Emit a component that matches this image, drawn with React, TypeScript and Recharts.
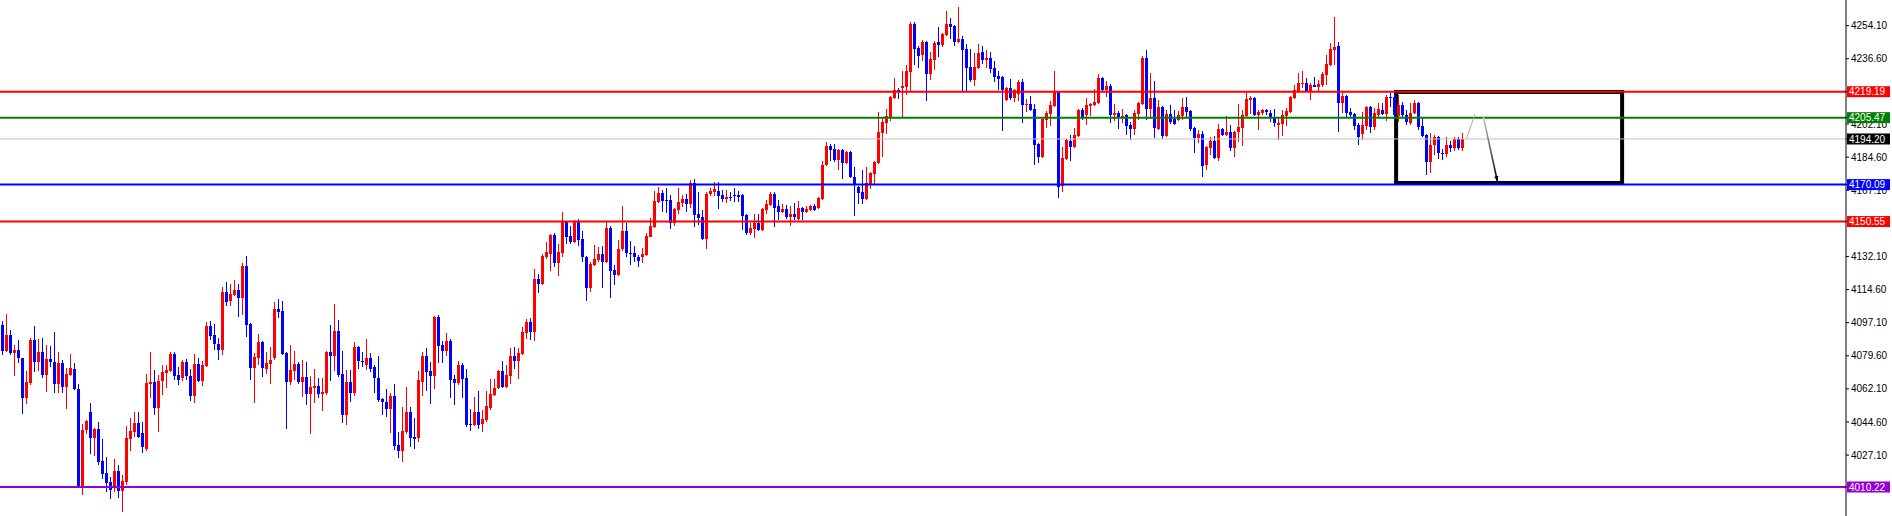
import { ComposedChart, Bar, XAxis, YAxis, ReferenceLine, ReferenceArea } from "recharts";

// candle values, one per bar, oldest first
const opens = [
  4095.9, 4082.3, 4090.6, 4081.2, 4082.6, 4078.2, 4057.4, 4065.4, 4087.9, 4076.3,
  4081.6, 4069.4, 4077.7, 4076.5, 4064.7, 4075.8, 4063.3, 4069.4, 4072.6, 4061.8,
  4010.2, 4040.4, 4049.9, 4036.3, 4040.9, 4024.0, 4017.6, 4012.9, 4010.2, 4018.7,
  4008.1, 4012.9, 4035.6, 4039.3, 4044.0, 4038.8, 4030.3, 4064.7, 4065.7, 4052.0,
  4066.3, 4070.5, 4071.5, 4080.5, 4069.4, 4067.8, 4076.3, 4068.9, 4058.3, 4075.2,
  4066.3, 4074.2, 4095.3, 4090.6, 4085.8, 4082.6, 4113.3, 4108.5, 4111.7, 4114.4,
  4110.1, 4127.0, 4096.4, 4073.1, 4078.4, 4086.9, 4072.6, 4075.2, 4078.4, 4104.3,
  4103.3, 4081.1, 4065.7, 4071.5, 4075.2, 4065.9, 4068.2, 4059.4, 4062.6, 4063.6,
  4059.4, 4059.9, 4081.6, 4079.5, 4092.7, 4069.9, 4048.3, 4065.7, 4059.9, 4084.2,
  4076.8, 4074.7, 4078.4, 4073.7, 4067.9, 4056.8, 4055.2, 4051.5, 4058.3, 4032.4,
  4029.5, 4039.3, 4049.9, 4036.7, 4036.1, 4065.7, 4079.5, 4071.5, 4068.9, 4100.1,
  4085.3, 4082.1, 4087.4, 4067.3, 4065.2, 4074.7, 4067.8, 4043.5, 4043.0, 4049.9,
  4043.5, 4045.6, 4052.0, 4058.9, 4062.6, 4071.5, 4063.1, 4068.9, 4079.5, 4076.8,
  4080.5, 4091.6, 4097.4, 4092.2, 4120.2, 4117.5, 4131.8, 4133.4, 4143.4, 4128.6,
  4133.9, 4150.3, 4142.9, 4139.8, 4150.8, 4141.3, 4131.8, 4115.4, 4127.6, 4130.2,
  4133.4, 4129.2, 4147.0, 4124.9, 4122.3, 4136.0, 4145.6, 4134.1, 4133.7, 4132.0,
  4131.6, 4132.9, 4142.6, 4147.8, 4161.1, 4165.5, 4161.9, 4161.9, 4149.6, 4156.7,
  4160.2, 4162.5, 4159.8, 4171.1, 4154.4, 4152.9, 4141.3, 4165.1, 4166.2, 4166.7,
  4164.6, 4162.5, 4163.5, 4164.6, 4164.6, 4164.6, 4154.0, 4144.5, 4146.6, 4149.8,
  4146.1, 4156.7, 4159.3, 4165.1, 4158.8, 4155.6, 4157.2, 4152.9, 4154.5, 4151.9,
  4157.7, 4155.6, 4156.7, 4158.8, 4157.7, 4162.5, 4180.4, 4190.5, 4188.9, 4183.1,
  4188.4, 4181.5, 4187.3, 4174.1, 4168.8, 4166.2, 4162.5, 4170.4, 4175.7, 4181.5,
  4197.4, 4202.6, 4205.8, 4215.9, 4220.1, 4221.1, 4221.7, 4229.6, 4255.0, 4242.3,
  4238.6, 4245.5, 4228.5, 4236.0, 4245.5, 4243.9, 4249.2, 4255.0, 4253.9, 4245.5,
  4247.0, 4241.8, 4232.2, 4225.4, 4231.7, 4240.2, 4235.9, 4237.0, 4231.7, 4227.5,
  4226.9, 4214.8, 4221.1, 4215.9, 4218.0, 4224.3, 4212.2, 4212.7, 4210.0, 4191.5,
  4184.7, 4204.2, 4207.4, 4211.6, 4219.0, 4169.3, 4183.6, 4193.1, 4190.0, 4195.8,
  4209.5, 4206.9, 4211.6, 4212.2, 4213.2, 4226.4, 4220.1, 4222.2, 4206.9, 4207.9,
  4205.8, 4206.9, 4201.6, 4199.5, 4207.4, 4212.7, 4237.0, 4210.0, 4215.9, 4199.5,
  4211.1, 4195.8, 4207.4, 4204.7, 4204.2, 4206.3, 4211.1, 4209.0, 4200.0, 4194.7,
  4196.8, 4180.4, 4189.4, 4193.1, 4184.2, 4199.5, 4196.3, 4197.9, 4189.4, 4197.9,
  4200.0, 4206.3, 4214.8, 4215.9, 4206.9, 4207.9, 4209.5, 4207.9, 4205.3, 4201.6,
  4202.1, 4206.3, 4208.5, 4215.9, 4219.6, 4223.3, 4224.0, 4219.7, 4222.7, 4221.8,
  4222.7, 4228.0, 4233.3, 4241.2, 4243.3, 4213.0, 4216.9, 4208.5, 4207.4, 4201.6,
  4196.8, 4201.0, 4211.3, 4200.7, 4206.9, 4209.5, 4207.4, 4216.6, 4216.2, 4206.3,
  4212.0, 4206.9, 4202.8, 4207.7, 4213.4, 4201.1, 4196.3, 4182.2, 4191.0, 4195.1,
  4186.6, 4186.3, 4191.0, 4189.2, 4194.4, 4189.2,
];

const highs = [
  4098.1, 4101.7, 4093.2, 4085.3, 4087.9, 4078.6, 4071.5, 4088.8, 4095.3, 4088.3,
  4088.8, 4085.3, 4084.8, 4092.2, 4081.6, 4077.4, 4073.3, 4080.5, 4075.6, 4064.5,
  4043.5, 4045.6, 4054.4, 4041.5, 4044.6, 4035.6, 4026.3, 4015.5, 4025.0, 4021.9,
  4016.6, 4042.5, 4046.7, 4049.9, 4049.9, 4044.6, 4070.0, 4081.6, 4072.1, 4069.4,
  4074.7, 4074.7, 4081.6, 4081.6, 4073.7, 4077.4, 4077.9, 4072.6, 4080.5, 4078.4,
  4076.8, 4097.4, 4098.0, 4096.4, 4089.0, 4115.9, 4118.6, 4117.5, 4119.6, 4117.5,
  4128.6, 4132.3, 4097.0, 4081.1, 4091.1, 4087.5, 4081.6, 4084.2, 4108.0, 4109.6,
  4108.5, 4081.8, 4085.3, 4082.1, 4076.5, 4077.4, 4076.3, 4068.9, 4072.6, 4067.9,
  4067.9, 4082.3, 4095.9, 4107.0, 4098.5, 4082.1, 4072.1, 4072.1, 4086.9, 4084.8,
  4081.6, 4088.5, 4081.1, 4074.7, 4079.5, 4057.3, 4062.0, 4059.9, 4064.7, 4039.3,
  4052.5, 4063.1, 4052.5, 4046.7, 4071.5, 4081.6, 4083.7, 4076.3, 4100.6, 4101.2,
  4087.4, 4091.6, 4088.5, 4069.4, 4076.8, 4075.8, 4072.6, 4051.5, 4057.8, 4061.0,
  4051.0, 4061.0, 4067.3, 4067.3, 4072.1, 4076.8, 4074.7, 4083.7, 4084.2, 4083.7,
  4094.8, 4099.0, 4099.6, 4125.5, 4122.8, 4133.4, 4139.7, 4144.0, 4144.5, 4138.7,
  4155.6, 4150.8, 4148.2, 4151.4, 4152.0, 4145.6, 4132.3, 4129.2, 4138.1, 4137.1,
  4137.5, 4150.3, 4148.2, 4127.6, 4140.8, 4158.8, 4149.6, 4140.4, 4137.6, 4132.9,
  4136.4, 4144.3, 4152.2, 4166.7, 4169.0, 4167.2, 4168.1, 4164.6, 4157.5, 4168.1,
  4164.6, 4165.1, 4172.5, 4172.9, 4166.3, 4156.7, 4166.0, 4168.3, 4171.5, 4171.5,
  4167.2, 4167.2, 4166.2, 4168.3, 4166.7, 4165.1, 4154.6, 4149.8, 4154.5, 4154.5,
  4157.7, 4161.9, 4166.2, 4166.2, 4161.9, 4159.8, 4159.3, 4158.8, 4160.3, 4161.4,
  4158.2, 4158.8, 4159.3, 4159.8, 4163.5, 4182.6, 4192.6, 4191.5, 4191.5, 4189.0,
  4188.9, 4187.8, 4188.0, 4179.4, 4169.3, 4177.8, 4179.4, 4176.7, 4182.6, 4208.5,
  4205.8, 4210.0, 4216.9, 4226.4, 4221.1, 4230.1, 4233.3, 4256.0, 4256.0, 4243.3,
  4246.5, 4246.0, 4240.2, 4246.0, 4253.4, 4250.2, 4261.8, 4258.1, 4254.4, 4263.9,
  4248.6, 4244.4, 4241.8, 4239.6, 4244.4, 4243.3, 4241.2, 4240.2, 4235.4, 4230.1,
  4227.6, 4221.8, 4225.9, 4220.8, 4225.4, 4225.9, 4215.3, 4216.9, 4212.7, 4192.1,
  4205.3, 4209.0, 4214.3, 4230.1, 4219.7, 4190.0, 4194.4, 4196.3, 4200.0, 4210.2,
  4210.6, 4215.9, 4213.4, 4220.6, 4228.5, 4227.0, 4224.9, 4223.3, 4212.7, 4209.0,
  4210.0, 4207.4, 4203.2, 4209.5, 4213.7, 4238.1, 4241.2, 4229.1, 4224.9, 4214.8,
  4211.8, 4209.5, 4212.2, 4209.5, 4209.0, 4215.9, 4216.4, 4209.7, 4200.5, 4198.9,
  4198.4, 4190.5, 4195.2, 4195.6, 4202.1, 4200.0, 4206.3, 4201.6, 4198.5, 4212.7,
  4209.5, 4219.0, 4216.9, 4216.4, 4209.5, 4210.0, 4210.1, 4209.5, 4210.0, 4205.3,
  4209.5, 4210.6, 4216.9, 4222.7, 4229.1, 4230.1, 4226.2, 4223.6, 4226.8, 4225.4,
  4229.8, 4238.6, 4244.8, 4258.5, 4245.5, 4218.7, 4217.4, 4210.4, 4208.0, 4202.5,
  4208.6, 4211.5, 4211.6, 4210.4, 4213.0, 4213.0, 4217.4, 4218.3, 4219.2, 4217.4,
  4213.9, 4209.5, 4213.0, 4214.8, 4213.9, 4206.0, 4197.0, 4197.5, 4196.3, 4196.0,
  4188.7, 4195.4, 4193.3, 4195.1, 4195.4, 4197.2,
];

const lows = [
  4080.0, 4081.8, 4080.0, 4068.9, 4075.6, 4048.8, 4054.1, 4064.1, 4071.0, 4071.5,
  4067.8, 4060.4, 4073.8, 4060.1, 4060.1, 4060.1, 4051.6, 4068.9, 4061.5, 4009.8,
  4006.0, 4038.2, 4027.7, 4026.6, 4021.9, 4014.4, 4007.6, 4003.9, 4007.6, 4004.2,
  3997.0, 4011.5, 4029.3, 4036.7, 4036.0, 4028.2, 4029.5, 4057.3, 4048.3, 4039.3,
  4058.9, 4062.6, 4071.0, 4066.8, 4064.1, 4066.3, 4066.8, 4055.7, 4054.6, 4065.7,
  4063.6, 4073.5, 4087.9, 4082.6, 4077.4, 4080.0, 4105.9, 4105.9, 4111.2, 4100.3,
  4101.1, 4089.7, 4066.8, 4054.6, 4074.7, 4068.4, 4070.0, 4064.7, 4077.5, 4099.6,
  4080.0, 4040.9, 4064.1, 4066.8, 4064.8, 4058.0, 4053.6, 4038.3, 4054.5, 4057.3,
  4050.4, 4058.8, 4066.3, 4071.5, 4068.5, 4044.1, 4043.0, 4055.2, 4058.3, 4072.6,
  4073.7, 4072.1, 4071.0, 4059.9, 4055.2, 4048.3, 4047.2, 4038.8, 4029.8, 4025.5,
  4023.5, 4038.5, 4031.4, 4030.3, 4034.0, 4058.3, 4061.0, 4054.1, 4062.0, 4075.8,
  4075.8, 4079.5, 4057.3, 4053.6, 4064.1, 4057.3, 4041.9, 4039.8, 4042.5, 4040.9,
  4039.3, 4044.6, 4051.0, 4058.3, 4062.0, 4062.6, 4062.6, 4064.7, 4072.6, 4067.3,
  4079.8, 4088.5, 4088.0, 4087.4, 4112.8, 4117.0, 4130.8, 4124.4, 4126.5, 4121.8,
  4131.8, 4138.7, 4138.7, 4139.2, 4137.6, 4129.2, 4108.5, 4113.3, 4127.1, 4129.2,
  4115.4, 4128.6, 4110.1, 4117.0, 4121.8, 4134.8, 4132.0, 4127.6, 4129.3, 4126.7,
  4128.8, 4132.3, 4142.3, 4147.0, 4160.2, 4155.8, 4154.9, 4146.4, 4148.2, 4154.5,
  4158.1, 4155.8, 4157.5, 4147.8, 4148.7, 4140.8, 4136.0, 4164.0, 4164.0, 4157.2,
  4160.9, 4160.3, 4161.4, 4160.9, 4160.9, 4146.1, 4143.4, 4143.4, 4141.9, 4145.3,
  4145.5, 4154.5, 4158.8, 4147.7, 4151.4, 4155.1, 4151.9, 4148.2, 4151.4, 4151.4,
  4151.4, 4155.1, 4156.1, 4156.1, 4157.2, 4161.9, 4179.9, 4182.6, 4182.0, 4177.8,
  4173.0, 4181.0, 4173.5, 4153.5, 4159.8, 4159.8, 4161.9, 4167.8, 4170.4, 4180.8,
  4184.7, 4196.8, 4203.7, 4215.2, 4215.3, 4205.8, 4217.4, 4219.0, 4233.3, 4231.7,
  4235.4, 4214.3, 4225.4, 4230.7, 4237.5, 4242.8, 4248.6, 4247.0, 4243.3, 4244.9,
  4219.5, 4219.5, 4224.3, 4222.2, 4231.2, 4233.8, 4231.7, 4229.1, 4224.3, 4220.1,
  4198.4, 4214.3, 4214.8, 4213.7, 4214.3, 4202.6, 4208.5, 4209.0, 4180.4, 4181.5,
  4184.2, 4200.0, 4201.0, 4211.0, 4163.0, 4166.2, 4183.0, 4182.6, 4189.3, 4195.2,
  4204.2, 4201.6, 4206.3, 4211.5, 4212.5, 4219.6, 4216.4, 4202.6, 4203.7, 4199.5,
  4202.6, 4196.3, 4193.7, 4196.3, 4204.2, 4212.0, 4204.2, 4204.7, 4194.7, 4198.9,
  4194.2, 4195.2, 4202.1, 4201.6, 4203.7, 4204.2, 4205.8, 4198.4, 4186.8, 4192.1,
  4174.1, 4177.8, 4185.7, 4183.5, 4182.6, 4195.8, 4195.6, 4187.8, 4184.7, 4192.6,
  4190.5, 4205.6, 4207.4, 4206.3, 4198.9, 4206.9, 4206.9, 4203.2, 4200.5, 4193.7,
  4195.8, 4201.0, 4207.8, 4215.2, 4219.0, 4221.0, 4219.2, 4214.8, 4221.5, 4219.2,
  4221.8, 4222.7, 4232.6, 4233.3, 4197.9, 4207.7, 4206.0, 4205.1, 4198.9, 4191.0,
  4193.7, 4198.9, 4197.2, 4198.9, 4206.0, 4206.9, 4203.7, 4211.3, 4205.1, 4203.3,
  4205.1, 4201.6, 4201.6, 4207.4, 4198.9, 4195.1, 4175.2, 4176.4, 4185.7, 4183.4,
  4183.1, 4184.5, 4187.3, 4188.0, 4188.4, 4188.0,
];

const closes = [
  4082.3, 4090.6, 4081.2, 4082.6, 4078.2, 4057.4, 4065.7, 4087.9, 4076.3, 4081.6,
  4069.4, 4077.7, 4076.5, 4064.7, 4075.8, 4063.3, 4070.0, 4073.1, 4061.8, 4010.2,
  4040.4, 4045.1, 4036.3, 4040.9, 4023.4, 4017.1, 4012.3, 4008.6, 4018.7, 4008.1,
  4013.4, 4036.1, 4039.8, 4044.0, 4036.7, 4031.4, 4065.2, 4065.7, 4052.0, 4066.3,
  4071.0, 4072.1, 4080.5, 4068.9, 4066.8, 4076.3, 4068.9, 4058.3, 4075.2, 4066.3,
  4074.7, 4095.3, 4090.0, 4085.8, 4082.6, 4113.3, 4108.0, 4112.2, 4114.4, 4110.1,
  4127.0, 4095.9, 4073.1, 4078.9, 4086.9, 4073.1, 4075.8, 4077.4, 4104.3, 4102.7,
  4080.5, 4065.7, 4072.1, 4075.2, 4065.7, 4068.2, 4059.4, 4063.1, 4063.6, 4059.4,
  4060.4, 4081.6, 4079.5, 4092.7, 4069.4, 4048.3, 4065.7, 4059.9, 4084.2, 4076.8,
  4076.3, 4078.4, 4072.6, 4067.9, 4056.2, 4055.2, 4051.5, 4058.3, 4031.9, 4029.5,
  4039.8, 4049.9, 4036.1, 4035.6, 4066.8, 4079.5, 4071.0, 4068.9, 4100.1, 4084.8,
  4082.1, 4087.4, 4066.8, 4065.2, 4074.7, 4067.3, 4043.0, 4043.0, 4049.9, 4043.0,
  4046.2, 4053.1, 4059.4, 4062.6, 4071.5, 4063.1, 4069.4, 4079.5, 4076.8, 4081.1,
  4092.2, 4097.4, 4092.2, 4120.2, 4117.5, 4132.3, 4134.5, 4143.4, 4128.6, 4134.5,
  4150.3, 4142.4, 4139.8, 4150.8, 4140.8, 4131.8, 4115.4, 4128.1, 4130.8, 4133.4,
  4129.2, 4147.0, 4124.4, 4122.3, 4136.0, 4145.6, 4133.7, 4133.4, 4131.6, 4129.9,
  4133.4, 4142.9, 4148.2, 4161.4, 4165.5, 4161.6, 4161.6, 4149.6, 4157.0, 4160.7,
  4162.5, 4159.8, 4170.7, 4154.0, 4152.2, 4141.3, 4165.1, 4166.7, 4167.5, 4164.0,
  4162.5, 4163.5, 4163.0, 4164.0, 4163.5, 4153.5, 4144.5, 4147.1, 4149.8, 4146.1,
  4157.2, 4159.8, 4165.1, 4157.7, 4155.6, 4157.2, 4152.9, 4154.5, 4152.9, 4157.7,
  4155.6, 4157.2, 4158.8, 4156.7, 4163.0, 4180.4, 4190.5, 4188.4, 4183.1, 4188.4,
  4181.5, 4187.3, 4174.1, 4170.4, 4165.6, 4162.5, 4170.9, 4176.2, 4182.0, 4197.9,
  4203.2, 4206.3, 4216.4, 4220.1, 4219.0, 4222.2, 4230.1, 4255.0, 4241.8, 4238.1,
  4245.5, 4228.5, 4236.5, 4244.9, 4243.9, 4249.7, 4255.0, 4253.4, 4245.5, 4247.0,
  4241.2, 4231.7, 4225.4, 4232.2, 4239.6, 4235.9, 4237.0, 4231.2, 4226.9, 4225.9,
  4220.1, 4221.1, 4215.9, 4220.1, 4224.3, 4212.2, 4212.7, 4209.5, 4191.0, 4184.7,
  4204.7, 4207.9, 4212.2, 4219.0, 4168.8, 4184.2, 4193.7, 4190.0, 4196.3, 4209.5,
  4205.8, 4212.2, 4212.7, 4213.7, 4226.4, 4220.1, 4222.2, 4206.9, 4207.9, 4205.8,
  4206.3, 4201.0, 4199.5, 4207.9, 4213.2, 4237.0, 4210.0, 4215.9, 4200.0, 4211.1,
  4195.8, 4207.4, 4203.2, 4202.1, 4206.9, 4211.1, 4208.5, 4199.5, 4194.7, 4196.8,
  4179.9, 4189.9, 4193.1, 4184.2, 4199.5, 4196.3, 4197.9, 4189.4, 4197.9, 4200.5,
  4206.9, 4215.3, 4215.9, 4206.9, 4208.5, 4209.5, 4208.5, 4205.3, 4202.6, 4202.6,
  4206.9, 4209.0, 4216.4, 4220.1, 4223.8, 4224.0, 4219.7, 4222.7, 4221.8, 4223.3,
  4228.5, 4233.8, 4241.6, 4243.0, 4213.0, 4216.9, 4208.1, 4206.9, 4201.0, 4195.4,
  4201.6, 4210.9, 4200.7, 4208.1, 4209.9, 4207.4, 4216.6, 4216.2, 4206.9, 4212.0,
  4206.9, 4203.3, 4208.1, 4213.4, 4200.7, 4195.8, 4182.2, 4191.0, 4195.1, 4186.6,
  4186.3, 4191.0, 4189.2, 4194.4, 4189.2, 4194.2,
];

// horizontal levels drawn on the chart
const levelPrices = [4219.19, 4205.47, 4194.2, 4170.09, 4150.55, 4010.22];
const levelColors = ["#ff0000", "#008000", "#c0c0c0", "#0000ff", "#ff0000", "#9400d3"];
const levelTagColors = ["#ff0000", "#008000", "#000000", "#0000ff", "#ff0000", "#9400d3"];

// price scale labels on the right (the ones hidden under level tags are left out)
const yTicks = [
  4254.1, 4236.6, 4202.1, 4184.6, 4167.1, 4132.1, 4114.6,
  4097.1, 4079.6, 4062.1, 4044.6, 4027.1,
];

// drawn objects: box (bar index range, price range) and the projected path
const boxBars = [348.4, 404.9];
const boxPrices = [4170.9, 4219.0];
const pathBars = [366.05, 368.1, 370.2, 373.75];
const pathPrices = [4194.5, 4207.2, 4206.0, 4171.6];

const rows = closes.map((c, i) => ({
  i,
  o: opens[i],
  h: highs[i],
  l: lows[i],
  c,
  range: [lows[i], highs[i]],
}));

const UP = "#ff0000";
const DOWN = "#0000ff";
const FONT = "Liberation Sans, Arial, sans-serif";

const Candle = (props: any) => {
  const { x, y, width, height, payload } = props;
  if (!payload) return null;
  const { o, h, l, c } = payload;
  const top = Math.min(y, y + height);
  const bot = Math.max(y, y + height);
  const span = h - l || 1;
  const toPx = (p: number) => top + ((h - p) / span) * (bot - top);
  const cx = Math.floor(x + width / 2);
  const color = c > o ? UP : DOWN;
  const bTop = Math.round(toPx(Math.max(o, c)));
  const bBot = Math.round(toPx(Math.min(o, c)));
  const wTop = Math.round(top);
  const wBot = Math.round(bot);
  return (
    <g>
      <rect x={cx} y={wTop} width={1} height={Math.max(1, wBot - wTop)} fill={color} />
      <rect x={cx - 1} y={bTop} width={3} height={Math.max(1, bBot - bTop)} fill={color} />
    </g>
  );
};

// axis tick: plain price, or a coloured tag for the level lines
const PriceTick = (props: any) => {
  const { x, y, payload } = props;
  const v = payload.value as number;
  const k = levelPrices.indexOf(v);
  if (k >= 0) {
    return (
      <g>
        <rect x={x - 4} y={y - 5.5} width={43} height={11} fill={levelTagColors[k]} />
        <text x={x - 2} y={y + 3.6} fill="#ffffff" fontSize={10} fontFamily={FONT}>
          {v.toFixed(2)}
        </text>
      </g>
    );
  }
  return (
    <text x={x} y={y + 3.6} fill="#000" fontSize={10} fontFamily={FONT}>
      {v.toFixed(2)}
    </text>
  );
};

const Arrow = (props: any) => {
  const { x1, y1, x2, y2 } = props;
  if (x1 == null) return null;
  const ang = Math.atan2(y2 - y1, x2 - x1);
  const len = 6;
  const a1 = ang + Math.PI - 0.35;
  const a2 = ang + Math.PI + 0.35;
  return (
    <g>
      <defs>
        <linearGradient id="arrowFade" x1="0" y1="0" x2="0" y2="1">
          <stop offset="0%" stopColor="#c8c8c8" />
          <stop offset="100%" stopColor="#000000" />
        </linearGradient>
      </defs>
      <line x1={x1} y1={y1} x2={x2} y2={y2} stroke="url(#arrowFade)" strokeWidth={1.6} />
      <path
        d={`M${x2},${y2} L${x2 + len * Math.cos(a1)},${y2 + len * Math.sin(a1)} L${x2 + len * Math.cos(a2)},${y2 + len * Math.sin(a2)} Z`}
        fill="#000"
      />
    </g>
  );
};

export default function App() {
  return (
    <div style={{ position: "absolute", left: 0, top: 0, width: 1892, height: 516, background: "#fff" }}>
      <ComposedChart width={1892} height={516} data={rows} margin={{ top: 0, right: 0, bottom: 0, left: 0 }}>
        <XAxis dataKey="i" type="number" domain={[-0.625, 460.875]} allowDataOverflow hide />
        <YAxis
          orientation="right"
          domain={[3994.89, 4267.67]}
          allowDataOverflow
          ticks={[...yTicks, ...levelPrices]}
          interval={0}
          width={46}
          tickSize={3}
          axisLine={{ stroke: "#000" }}
          tickLine={{ stroke: "#000" }}
          tick={<PriceTick />}
        />
        <Bar dataKey="range" barSize={3} shape={<Candle />} isAnimationActive={false} />
        {levelPrices.map((p, k) => (
          <ReferenceLine key={p} y={p} stroke={levelColors[k]} strokeWidth={k === 2 ? 1 : 2} />
        ))}
        <ReferenceArea
          x1={boxBars[0]}
          x2={boxBars[1]}
          y1={boxPrices[0]}
          y2={boxPrices[1]}
          fill="none"
          fillOpacity={0}
          stroke="#000"
          strokeWidth={4}
          ifOverflow="visible"
        />
        <ReferenceLine
          segment={[
            { x: pathBars[0], y: pathPrices[0] },
            { x: pathBars[1], y: pathPrices[1] },
          ]}
          stroke="#a8a8a8"
          strokeWidth={1}
          ifOverflow="visible"
        />
        <ReferenceLine
          segment={[
            { x: pathBars[2], y: pathPrices[2] },
            { x: pathBars[3], y: pathPrices[3] },
          ]}
          shape={<Arrow />}
          ifOverflow="visible"
        />
      </ComposedChart>
    </div>
  );
}
